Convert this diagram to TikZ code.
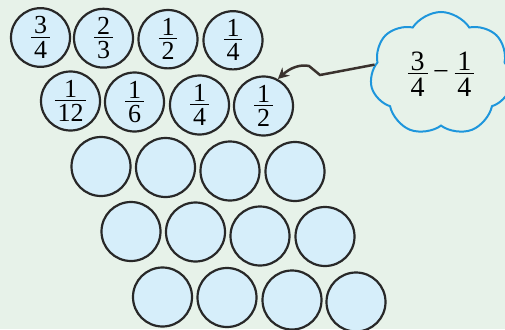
\documentclass[tikz,border=0pt]{standalone}
\usepackage{fontspec}
\setmainfont{Liberation Serif}
\usetikzlibrary{shapes.geometric,shapes.symbols,arrows.meta}
\definecolor{bg}{RGB}{231,242,233}
\definecolor{cfill}{RGB}{214,238,250}
\definecolor{cline}{RGB}{40,40,40}
\definecolor{cloudblue}{RGB}{30,150,220}
\definecolor{arrowc}{RGB}{58,50,46}
\newcommand\fr[2]{$\vcenter{\offinterlineskip\halign{\hfil\kern0.1em##\kern0.1em\hfil\cr #1\cr\noalign{\kern0.09em\hrule height0.045em\kern0.13em}#2\cr}}$}
\begin{document}
\begin{tikzpicture}[x=1pt,y=-1pt,
  disc/.style={ellipse,draw=cline,fill=cfill,line width=2.2pt,minimum width=59pt,minimum height=59pt,inner sep=0pt,font=\fontsize{26}{26}\selectfont},
  flat/.style={disc,minimum height=55pt},
  thought/.style={cloud,cloud puffs=7,cloud puff arc=115,draw=cloudblue,line width=2pt,minimum width=142pt,minimum height=124pt,inner sep=0pt,font=\fontsize{28}{28}\selectfont},
  link/.style={draw=arrowc,line width=2.5pt,-{Stealth[length=11pt,width=11pt]}}]
\fill[bg] (0,0) rectangle (505,329);
\useasboundingbox (0,0) rectangle (505,329);
% row 1
\node[flat] (c11) at (40.5,37.5) {\fr{3}{4}};
\node[flat] (c12) at (103.5,38.2) {\fr{2}{3}};
\node[flat] (c13) at (168,39.2) {\fr{1}{2}};
\node[flat] (c14) at (233,40.3) {\fr{1}{4}};
% row 2
\node[disc] (c21) at (70.5,101) {\fr{1}{12}};
\node[disc] (c22) at (134.5,102) {\fr{1}{6}};
\node[disc] (c23) at (199.5,105) {\fr{1}{4}};
\node[disc] (c24) at (263.5,106) {\fr{1}{2}};
% row 3
\node[disc] (c31) at (101,166.5) {};
\node[disc] (c32) at (165.5,167.5) {};
\node[disc] (c33) at (230,171) {};
\node[disc] (c34) at (295,171.5) {};
% row 4
\node[disc] (c41) at (131,231.5) {};
\node[disc] (c42) at (195.5,232) {};
\node[disc] (c43) at (260,236) {};
\node[disc] (c44) at (325,236.5) {};
% row 5
\node[disc] (c51) at (162.5,297) {};
\node[disc] (c52) at (227,297.5) {};
\node[disc] (c53) at (292,300) {};
\node[disc] (c54) at (356,302) {};
% cloud
\node[thought,shape border rotate=10] (cl) at (441,74) {\fr{3}{4}\kern0.2em−\kern0.2em\fr{1}{4}};
\coordinate (k1) at (320,75);
\coordinate (k2) at (309,66);
\draw[link] (cl.172) -- (k1) -- (k2) .. controls (300,64) and (290,68) .. (c24.62);
\end{tikzpicture}
\end{document}
